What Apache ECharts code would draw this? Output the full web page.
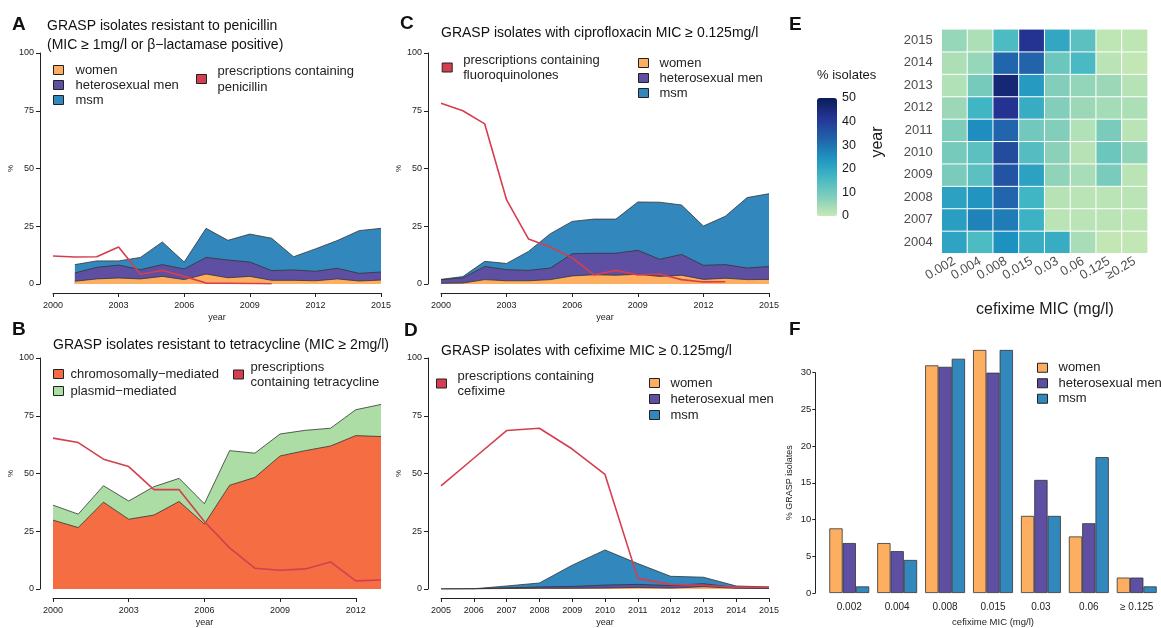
<!DOCTYPE html>
<html><head><meta charset="utf-8">
<script src="https://cdn.jsdelivr.net/npm/echarts/dist/echarts.min.js"></script>
<style>html,body{margin:0;padding:0;background:#fff}#c{width:1161px;height:628px}</style>
</head><body><div id="c"></div><script>
const FONT = 'Liberation Sans, Arial, Helvetica, sans-serif';

// ---------- data ----------
// A: penicillin resistance (% isolates), 2001-2015
const yearsA = [2001,2002,2003,2004,2005,2006,2007,2008,2009,2010,2011,2012,2013,2014,2015];
const penWomen  = [1.2,2.2,2.6,2.2,3.3,1.9,4.3,2.7,3.3,1.6,1.6,1.4,2.2,1.3,1.7];
const penHetero = [3.6,5.0,5.6,4.0,5.1,4.6,7.2,7.7,6.2,4.2,4.5,4.1,4.6,3.3,3.5];
const penMsm    = [3.6,2.8,1.8,5.3,9.8,3.0,12.6,8.5,12.1,14.0,5.7,9.7,12.0,18.5,18.9];
const penRxYears = [2000,2001,2002,2003,2004,2005,2006,2007,2008,2009,2010];
const penRx      = [12.1,11.7,11.8,16.0,4.2,5.9,3.3,0.4,0.3,0.2,0.1];
// B: tetracycline, 2000-2013
const yearsB = [2000,2001,2002,2003,2004,2005,2006,2007,2008,2009,2010,2011,2012,2013];
const tetChrom   = [29.8,26.6,37.6,30.2,32.0,37.9,28.1,44.9,48.3,57.6,59.9,61.9,66.4,66.0];
const tetPlasmid = [6.5,5.8,7.1,7.9,12.3,10.0,8.8,15.0,10.5,9.5,8.8,7.7,11.2,13.9];
const tetRx      = [65.3,63.4,56.2,53.0,43.0,43.0,29.2,17.8,9.0,8.1,8.7,11.7,3.5,3.9];
// C: ciprofloxacin, 2000-2015
const yearsC = [2000,2001,2002,2003,2004,2005,2006,2007,2008,2009,2010,2011,2012,2013,2014,2015];
const cipWomen  = [0.3,0.4,1.9,1.4,1.4,1.9,3.5,4.0,3.8,4.2,3.3,3.8,2.0,2.5,1.9,2.0];
const cipHetero = [1.6,2.2,5.7,4.8,4.5,5.0,9.6,9.3,9.5,10.4,7.4,9.0,6.1,5.9,5.0,5.6];
const cipMsm    = [0.1,0.6,2.2,2.7,8.2,14.9,14.0,14.8,14.8,20.9,24.7,21.4,17.0,20.9,30.5,31.5];
const cipRxYears = [2000,2001,2002,2003,2004,2005,2006,2007,2008,2009,2010,2011,2012,2013];
const cipRx      = [78.2,75.0,69.3,36.4,19.5,16.0,11.3,3.9,5.9,3.9,4.3,1.9,0.9,1.0];
// D: cefixime, 2005-2015
const yearsD = [2005,2006,2007,2008,2009,2010,2011,2012,2013,2014,2015];
const cfxWomen  = [0.0,0.0,0.2,0.3,0.3,0.4,0.7,0.4,1.0,0.3,0.2];
const cfxHetero = [0.0,0.1,0.3,0.6,0.8,1.3,1.3,1.1,1.3,0.3,0.2];
const cfxMsm    = [0.0,0.0,0.8,1.7,9.2,15.2,9.0,4.0,2.8,0.7,0.5];
const cfxRx     = [44.6,56.6,68.6,69.6,60.6,49.6,4.6,2.0,1.6,0.7,0.7];
// E: heatmap of cefixime MIC distribution (% isolates)
const micCats = ['0.002','0.004','0.008','0.015','0.03','0.06','0.125','\u22650.25'];
const heatYears = ['2004','2007','2008','2009','2010','2011','2012','2013','2014','2015'];
const heatValues = [
  [21,15,25,19,19,3.5,0.5,0.5],
  [22,27.5,28.5,17.5,1.5,1.5,1.5,1],
  [21.5,24,32,17,2,1.5,1.5,1.5],
  [9,13,35.5,21.5,6.5,3.5,9,1.5],
  [9.5,13,37,14,7,2,11,6.5],
  [8.5,25.5,32,10,8,2.5,9,1.5],
  [5,17,42,19,8,5,4,3],
  [2.5,9.5,46,23,8,6,5,2],
  [3,5.5,32,32.5,11,15.5,1.5,0.5],
  [5.5,3,15,42,20,13,1,1]
];
const colorbarTicks = [0,10,20,30,40,50];
// F: bars
const barCats   = ['0.002','0.004','0.008','0.015','0.03','0.06','\u2265 0.125'];
const barWomen  = [8.8,6.8,31.0,33.1,10.5,7.7,2.1];
const barHetero = [6.8,5.7,30.8,30.0,15.4,9.5,2.1];
const barMsm    = [0.9,4.5,31.9,33.1,10.5,18.5,0.9];

// ---------- styling ----------
const RED='#d53e4f', ORANGE='#fdae61', PURPLE='#5e4fa2', BLUE='#3288bd', CHROM='#f46d43', PLASMID='#abdda4';
const HEAT = ['#c7e9b4','#7fcdbb','#41b6c4','#1d91c0','#225ea8','#253494','#081d58'];
const INK = '#222';

const N_W='women', N_H='heterosexual men', N_M='msm';
const N_PEN='prescriptions containing\npenicillin';
const N_TET='prescriptions\ncontaining tetracycline';
const N_FQ='prescriptions containing\nfluoroquinolones';
const N_CFX='prescriptions containing\ncefixime';
const N_CH='chromosomally\u2212mediated', N_PL='plasmid\u2212mediated';

function add(a,b){return a.map((v,i)=>+(v+b[i]).toFixed(3));}
function pairs(xs,ys){return xs.map((x,i)=>[x,ys[i]]);}
function area(name,xs,ys,color,gi){
  return {type:'line',name,xAxisIndex:gi,yAxisIndex:gi,data:pairs(xs,ys),symbol:'none',showSymbol:false,
    lineStyle:{color:'#333',width:0.8},areaStyle:{color,opacity:1},itemStyle:{color},z:2,silent:true};
}
function rx(name,xs,ys,gi){
  return {type:'line',name,xAxisIndex:gi,yAxisIndex:gi,data:pairs(xs,ys),symbol:'none',showSymbol:false,
    lineStyle:{color:RED,width:1.6},itemStyle:{color:RED},z:4,silent:true};
}
const axLine={show:true,onZero:false,lineStyle:{color:INK,width:1}};
const axTick={show:true,length:4,lineStyle:{color:INK,width:1}};
function xVal(gi,min,max,interval,extra){
  return Object.assign({gridIndex:gi,type:'value',min,max,interval,offset:9,axisLine:axLine,axisTick:axTick,
    axisLabel:{fontFamily:FONT,fontSize:9,color:INK,margin:8,formatter:v=>String(v)},splitLine:{show:false},
    name:'year',nameLocation:'middle',nameGap:20,nameTextStyle:{fontFamily:FONT,fontSize:9,color:INK}},extra||{});
}
function yPct(gi){
  return {gridIndex:gi,type:'value',min:0,max:100,interval:25,offset:13,axisLine:axLine,axisTick:axTick,
    axisLabel:{fontFamily:FONT,fontSize:9,color:INK,margin:6},splitLine:{show:false},
    name:'%',nameLocation:'middle',nameRotate:90,nameGap:24,nameTextStyle:{fontFamily:FONT,fontSize:8,color:INK}};
}
function legend(left,top,names,colors,lh,gap,pad){
  return {left,top,orient:'vertical',padding:0,itemGap:gap||0,itemWidth:10,itemHeight:9,icon:'rect',selectedMode:false,
    textStyle:{fontFamily:FONT,fontSize:13,color:INK,lineHeight:lh,padding:[0,0,0,pad]},
    data:names.map((n,i)=>({name:n,itemStyle:{color:colors[i],borderColor:'#222',borderWidth:1}}))};
}
function txt(x,y,text,o){
  return {type:'text',x,y,silent:true,style:Object.assign({text,fontFamily:FONT,fontSize:14,fill:'#111',align:'left',verticalAlign:'middle'},o||{})};
}

// ---------- series ----------
const series = [];
// A
series.push(area(N_M,yearsA,add(add(penWomen,penHetero),penMsm),BLUE,0));
series.push(area(N_H,yearsA,add(penWomen,penHetero),PURPLE,0));
series.push(area(N_W,yearsA,penWomen,ORANGE,0));
series.push(rx(N_PEN,penRxYears,penRx,0));
// B
series.push(area(N_PL,yearsB,add(tetChrom,tetPlasmid),PLASMID,1));
series.push(area(N_CH,yearsB,tetChrom,CHROM,1));
series.push(rx(N_TET,yearsB,tetRx,1));
// C
series.push(area(N_M,yearsC,add(add(cipWomen,cipHetero),cipMsm),BLUE,3));
series.push(area(N_H,yearsC,add(cipWomen,cipHetero),PURPLE,3));
series.push(area(N_W,yearsC,cipWomen,ORANGE,3));
series.push(rx(N_FQ,cipRxYears,cipRx,3));
// D
series.push(area(N_M,yearsD,add(add(cfxWomen,cfxHetero),cfxMsm),BLUE,4));
series.push(area(N_H,yearsD,add(cfxWomen,cfxHetero),PURPLE,4));
series.push(area(N_W,yearsD,cfxWomen,ORANGE,4));
series.push(rx(N_CFX,yearsD,cfxRx,4));
// E heatmap
const heatData=[];
heatValues.forEach((row,yi)=>row.forEach((v,xi)=>heatData.push([xi,yi,v])));
const heatIndex = series.length;
series.push({type:'heatmap',xAxisIndex:5,yAxisIndex:5,data:heatData,silent:true,
  itemStyle:{borderColor:'#fff',borderWidth:1},emphasis:{disabled:true}});
// F bars
[[N_W,barWomen,ORANGE],[N_H,barHetero,PURPLE],[N_M,barMsm,BLUE]].forEach(([n,d,c])=>{
  series.push({type:'bar',name:n,xAxisIndex:7,yAxisIndex:7,data:d,barWidth:13.3,barGap:'0%',clip:false,silent:true,
    itemStyle:{color:c,borderColor:'#333',borderWidth:0.8}});
});

const option = {
  animation:false,
  backgroundColor:'#fff',
  grid:[
    {left:53,top:53,width:328,height:231},        //0 A
    {left:53,top:358,width:328,height:231},       //1 B data
    {left:53,top:358,width:328*12/13,height:231}, //2 B axis
    {left:441,top:53,width:328,height:231},       //3 C
    {left:441,top:358,width:328,height:231},      //4 D
    {left:941.7,top:29.3,width:206,height:224},   //5 E heat
    {left:817,top:98,width:20,height:118},        //6 E colorbar axis
    {left:825.3,top:372.7,width:335.4,height:223} //7 F
  ],
  xAxis:[
    xVal(0,2000,2015,3),
    {gridIndex:1,type:'value',min:2000,max:2013,show:false},
    xVal(2,2000,2012,3),
    xVal(3,2000,2015,3),
    xVal(4,2005,2015,1),
    {gridIndex:5,type:'category',data:micCats,axisLine:{show:false},axisTick:{show:false},
      axisLabel:{fontFamily:FONT,fontSize:13,color:'#4d4d4d',rotate:30,margin:7,interval:0},splitLine:{show:false}},
    {gridIndex:6,type:'value',show:false,min:0,max:1},
    {gridIndex:7,type:'category',data:barCats,axisLine:{show:false},axisTick:{show:false},
      axisLabel:{fontFamily:FONT,fontSize:10,color:INK,margin:9,interval:0},
      name:'cefixime MIC (mg/l)',nameLocation:'middle',nameGap:24,nameTextStyle:{fontFamily:FONT,fontSize:9.5,color:INK}}
  ],
  yAxis:[
    yPct(0),
    yPct(1),
    {gridIndex:2,type:'value',show:false,min:0,max:1},
    yPct(3),
    yPct(4),
    {gridIndex:5,type:'category',data:heatYears,axisLine:{show:false},axisTick:{show:false},
      axisLabel:{fontFamily:FONT,fontSize:13,color:'#4d4d4d',margin:9,interval:0},splitLine:{show:false}},
    {gridIndex:6,type:'value',min:colorbarTicks[0],max:colorbarTicks[colorbarTicks.length-1],interval:10,position:'right',z:10,
      axisLine:{show:false},axisTick:{show:true,inside:true,length:4,lineStyle:{color:'#fff',width:1}},
      axisLabel:{fontFamily:FONT,fontSize:12.5,color:'#1a1a1a',margin:5},splitLine:{show:false}},
    {gridIndex:7,type:'value',min:0,max:30,interval:5,offset:10,axisLine:axLine,axisTick:{show:true,length:3,lineStyle:{color:INK}},
      axisLabel:{fontFamily:FONT,fontSize:9.5,color:INK,margin:4},splitLine:{show:false},
      name:'% GRASP isolates',nameLocation:'middle',nameRotate:90,nameGap:21,nameTextStyle:{fontFamily:FONT,fontSize:9,color:INK}}
  ],
  visualMap:{type:'continuous',min:0,max:50,seriesIndex:heatIndex,left:817,top:98,itemWidth:20,itemHeight:118,
    padding:0,calculable:false,hoverLink:false,inRange:{color:HEAT},text:null,showLabel:false},
  legend:[
    legend(53,62.5,[N_W,N_H,N_M],[ORANGE,PURPLE,BLUE],15,0,7),
    legend(196,63,[N_PEN],[RED],16,0,6),
    legend(53,366,[N_CH,N_PL],[CHROM,PLASMID],16,1,2),
    legend(233,359.5,[N_TET],[RED],15,0,2),
    legend(441.7,52.5,[N_FQ],[RED],15,0,6),
    legend(638,55.5,[N_W,N_H,N_M],[ORANGE,PURPLE,BLUE],15,0,6),
    legend(436,368.5,[N_CFX],[RED],15,0,6),
    legend(649,375,[N_W,N_H,N_M],[ORANGE,PURPLE,BLUE],16,0,6),
    legend(1037,360,[N_W,N_H,N_M],[ORANGE,PURPLE,BLUE],15.5,0,6)
  ],
  graphic:[
    txt(12,25,'A',{fontSize:19,fontWeight:'bold'}),
    txt(12,330,'B',{fontSize:19,fontWeight:'bold'}),
    txt(400,24,'C',{fontSize:19,fontWeight:'bold'}),
    txt(404,331,'D',{fontSize:19,fontWeight:'bold'}),
    txt(789,25,'E',{fontSize:19,fontWeight:'bold'}),
    txt(789,330,'F',{fontSize:19,fontWeight:'bold'}),
    txt(47,26,'GRASP isolates resistant to penicillin'),
    txt(47,45,'(MIC \u2265 1mg/l or \u03b2\u2212lactamase positive)'),
    txt(53,345,'GRASP isolates resistant to tetracycline (MIC \u2265 2mg/l)'),
    txt(441,33,'GRASP isolates with ciprofloxacin MIC \u2265 0.125mg/l'),
    txt(441,350.7,'GRASP isolates with cefixime MIC \u2265 0.125mg/l'),
    txt(817,75,'% isolates',{fontSize:13,fill:'#1a1a1a'}),
    txt(1045,310,'cefixime MIC (mg/l)',{fontSize:16,align:'center',fill:'#1a1a1a'}),
    {type:'text',x:878,y:142,rotation:Math.PI/2,silent:true,
      style:{text:'year',fontFamily:FONT,fontSize:16,fill:'#1a1a1a',align:'center',verticalAlign:'middle'}}
  ],
  series
};
const chart = echarts.init(document.getElementById('c'),null,{renderer:'canvas'});
chart.setOption(option);
</script></body></html>
